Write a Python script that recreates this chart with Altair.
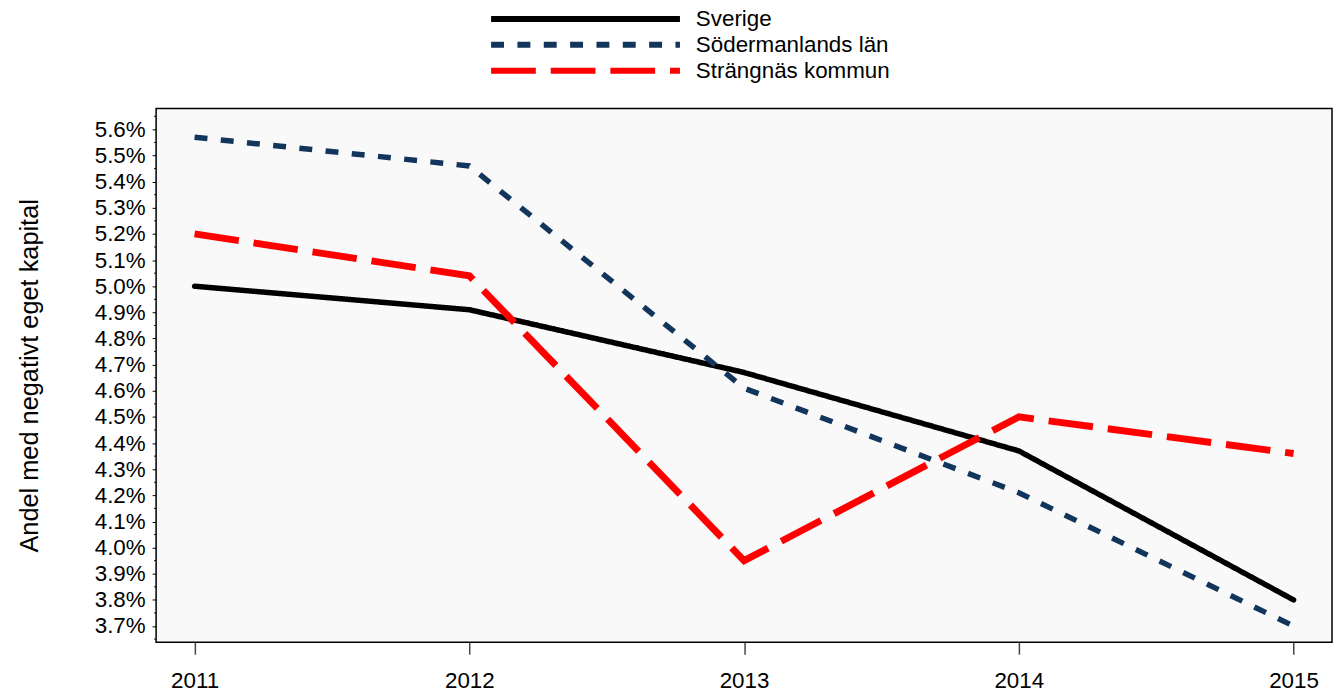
import altair as alt
import pandas as pd

years = [2011, 2012, 2013, 2014, 2015]
series_names = ["Sverige", "Södermanlands län", "Strängnäs kommun"]
sverige = [0.0500, 0.0491, 0.0467, 0.0437, 0.0380]
sodermanland = [0.0557, 0.0546, 0.0461, 0.0421, 0.0370]
strangnas = [0.0520, 0.0504, 0.0395, 0.0450, 0.0436]
colors = ["#000000", "#12355b", "#ff0000"]
dashes = [[1, 0], [13, 13.5], [45, 15]]
widths = [5.5, 5.5, 7]
caps = ["round", "butt", "butt"]
major_ticks = [round(0.037 + 0.001 * i, 4) for i in range(20)]
minor_ticks = [round(0.0365 + 0.001 * i, 5) for i in range(21)]

rows = []
for name, vals in zip(series_names, [sverige, sodermanland, strangnas]):
    for yr, v in zip(years, vals):
        rows.append({"year": yr, "value": v, "series": name})
df = pd.DataFrame(rows)

FONT = "Liberation Sans"
FS = 22.5
W, H = 1183, 537
ydom = [0.03638, 0.05680]
xdom = [2010.86, 2015.14]

yscale = alt.Scale(domain=ydom, nice=False, zero=False)
xscale = alt.Scale(domain=xdom, nice=False, zero=False)

legend_cfg = dict(title=None, orient="none", legendX=334, legendY=-103,
                  symbolType="stroke", symbolSize=36100, clipHeight=26, rowPadding=0,
                  labelFont=FONT, labelFontSize=FS, labelColor="#000000", labelLimit=400,
                  labelOffset=13, symbolStrokeWidth=6, padding=0)

xaxis = alt.Axis(values=years, format="d", title=None, tickSize=12,
                 labelPadding=16, labelFontSize=FS, labelFont=FONT,
                 labelColor="#000000", tickColor="#444444", tickWidth=1.5,
                 domain=False, grid=False)
yaxis = alt.Axis(values=major_ticks, format=".1%", labelOverlap=False,
                 title="Andel med negativt eget kapital",
                 titleFont=FONT, titleFontSize=25.5, titleFontWeight="normal",
                 titleColor="#000000", titleX=-127, titleY=H / 2,
                 titleAngle=-90, titleAlign="center", titleBaseline="middle",
                 tickSize=4, labelPadding=7, labelFontSize=FS, labelFont=FONT,
                 labelColor="#000000", tickColor="#000000",
                 domain=False, grid=False)

base = alt.Chart(df).encode(
    x=alt.X("year:Q", scale=xscale, axis=xaxis),
    y=alt.Y("value:Q", scale=yscale, axis=yaxis),
    color=alt.Color("series:N",
                    scale=alt.Scale(domain=series_names, range=colors),
                    legend=alt.Legend(**legend_cfg)),
    strokeDash=alt.StrokeDash("series:N",
                              scale=alt.Scale(domain=series_names, range=dashes),
                              legend=alt.Legend(**legend_cfg)),
)

layers = []
for name, w, cap in zip(series_names, widths, caps):
    layers.append(
        base.transform_filter(alt.datum.series == name)
        .mark_line(strokeWidth=w, strokeCap=cap, strokeJoin="miter")
    )

minor = alt.Chart(pd.DataFrame({"v": minor_ticks})).mark_rule(
    color="#000000", strokeWidth=1, clip=False
).encode(
    y=alt.Y("v:Q", scale=yscale, axis=yaxis),
    x=alt.value(-2),
    x2=alt.value(0),
)

chart = alt.layer(*layers, minor).properties(
    width=W, height=H,
    autosize=alt.AutoSizeParams(type="none"),
    padding={"left": 149, "top": 99, "right": 4, "bottom": 49},
).configure_view(
    fill="#f9f9f9", stroke="#000000", strokeWidth=1.5
)

chart.save("out.html", embed_options={"renderer": "svg", "actions": False})
